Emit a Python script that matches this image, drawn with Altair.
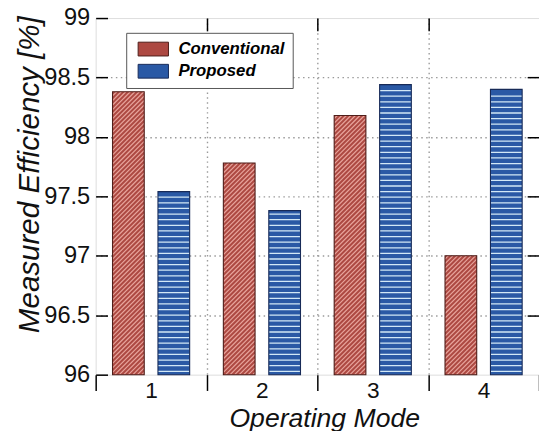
import altair as alt
import numpy as np
import pandas as pd

# ---- data ----
modes = [1, 2, 3, 4]
series_names = ["Conventional", "Proposed"]
conventional = [98.38, 97.78, 98.18, 97.00]
proposed = [97.54, 97.38, 98.44, 98.40]
y_ticks = [96, 96.5, 97, 97.5, 98, 98.5, 99]
x_tick_labels = ["1", "2", "3", "4"]

# ---- layout / style constants ----
W, H = 450, 362
Y0, Y1 = 96, 99
X0, X1 = 0.5, 4.5
kx = W / (X1 - X0)
ky = H / (Y1 - Y0)
OFF, HW = 0.205, 0.143

red_fill, red_stripe, red_edge = "#ad4942", "#e8a49c", "#4e1e1a"
blue_fill, blue_stripe, blue_edge = "#2a59a5", "#d2e8f6", "#172a57"
FONT = "Liberation Sans"

rows = []
for m, c, p in zip(modes, conventional, proposed):
    rows.append(dict(mode=m, series="Conventional", value=c, xl=m - OFF - HW, xr=m - OFF + HW))
    rows.append(dict(mode=m, series="Proposed", value=p, xl=m + OFF - HW, xr=m + OFF + HW))
bars = pd.DataFrame(rows)

# hatch lines derived from bar geometry (diagonal for Conventional, horizontal for Proposed)
r = kx / ky
diag, horiz = [], []
step_d = 4.6 / ky
step_h = 5.7 / ky
for _, b in bars.iterrows():
    xl, xr, v = b.xl, b.xr, b.value
    if b.series == "Conventional":
        for s in np.arange(-(xr - xl) * r + step_d / 2, v - Y0, step_d):
            xs = max(xl, xl - s / r)
            xe = min(xr, xl + (v - Y0 - s) / r)
            if xe - xs > 1e-6:
                diag.append(dict(x=xs, y=Y0 + s + (xs - xl) * r, x2=xe, y2=Y0 + s + (xe - xl) * r))
    else:
        for yy in np.arange(Y0 + step_h * 0.6, v - step_h * 0.3, step_h):
            horiz.append(dict(x=xl, y=yy, x2=xr, y2=yy))
diag = pd.DataFrame(diag)
horiz = pd.DataFrame(horiz)

xs = alt.Scale(domain=[X0, X1], nice=False, zero=False)
ys = alt.Scale(domain=[Y0, Y1], nice=False, zero=False)

x_vals = [0.5, 1, 1.5, 2, 2.5, 3, 3.5, 4, 4.5]
x_axis_bottom = alt.Axis(
    orient="bottom", values=x_vals,
    labelExpr="datum.value % 1 == 0 ? '' + datum.value : ''",
    tickOpacity={"condition": {"test": "datum.value % 1 == 0", "value": 0}, "value": 1},
    gridOpacity={"condition": {"test": "datum.value % 1 == 0 || datum.value < 1 || datum.value > 4", "value": 0}, "value": 1},
    tickSize=16, tickWidth=1.5, tickColor="black", domain=False,
    grid=True, gridDash=[1.5, 3.5], gridColor="#9a9a9a", gridWidth=1.4,
    labelFont=FONT, labelFontSize=23, labelColor="#111", labelBaseline="alphabetic",
    labelPadding=7.5, labelAngle=0, labelOverlap=False, labelFlush=False,
    title="Operating Mode", titleFont=FONT, titleFontSize=27, titleFontStyle="italic",
    titleFontWeight="normal", titleColor="#111", titleX=232, titleY=52.5,
    titleBaseline="alphabetic", titleAlign="center",
)
y_axis_left = alt.Axis(
    orient="left", values=y_ticks, offset=-12, tickSize=12, tickWidth=1.5, tickColor="black",
    domain=False, grid=True, gridDash=[1.5, 3.5], gridColor="#9a9a9a", gridWidth=1.4,
    gridOpacity={"condition": {"test": "datum.value <= 96 || datum.value >= 99", "value": 0}, "value": 1},
    labelExpr="'' + datum.value", labelFont=FONT, labelFontSize=24, labelColor="#111",
    labelPadding=6, labelOverlap=False, labelFlush=False,
    title="Measured Efficiency [%]", titleFont=FONT, titleFontSize=30, titleFontStyle="italic",
    titleFontWeight="normal", titleColor="#111", titleAngle=270, titleX=-79, titleY=158.5,
    titleAlign="center", titleBaseline="middle",
)
x_axis_top = alt.Axis(orient="top", values=[1.5, 2.5, 3.5], offset=-13, tickSize=13, tickWidth=1.5,
                      tickColor="black", labels=False, domain=False, grid=False, title=None)
y_axis_right = alt.Axis(orient="right", values=y_ticks[1:-1], offset=-12, tickSize=12, tickWidth=1.5,
                        tickColor="black", labels=False, domain=False, grid=False, title=None)

legend = alt.Legend(
    title=None, orient="none", legendX=31, legendY=15, direction="vertical",
    symbolType="M-2.2,-1H2.2V1H-2.2Z", symbolSize=196, symbolStrokeColor="#333",
    symbolStrokeWidth=1, symbolOffset=11, labelOffset=17,
    labelFont=FONT, labelFontSize=17, labelFontStyle="italic", labelFontWeight="bold",
    labelColor="black", padding=8, rowPadding=3.5, strokeColor="#555", fillColor="white",
    labelLimit=300,
)

fill_layer = alt.Chart(bars).mark_bar(strokeWidth=0).encode(
    x=alt.X("xl:Q", scale=xs, axis=x_axis_bottom),
    x2="xr:Q",
    y=alt.Y("value:Q", scale=ys, axis=y_axis_left),
    y2=alt.datum(Y0),
    color=alt.Color("series:N", scale=alt.Scale(domain=series_names, range=[red_fill, blue_fill]), legend=legend),
)

diag_layer = alt.Chart(diag).mark_rule(color=red_stripe, strokeWidth=1.2).encode(
    x=alt.X("x:Q", scale=xs, axis=None), x2="x2:Q",
    y=alt.Y("y:Q", scale=ys, axis=None), y2="y2:Q",
)
horiz_layer = alt.Chart(horiz).mark_rule(color=blue_stripe, strokeWidth=1.3).encode(
    x=alt.X("x:Q", scale=xs, axis=None), x2="x2:Q",
    y=alt.Y("y:Q", scale=ys, axis=None), y2="y2:Q",
)

outline_layer = alt.Chart(bars).mark_bar(fillOpacity=0, strokeWidth=1.1).encode(
    x=alt.X("xl:Q", scale=xs, axis=x_axis_top),
    x2="xr:Q",
    y=alt.Y("value:Q", scale=ys, axis=y_axis_right),
    y2=alt.datum(Y0),
    stroke=alt.Stroke("series:N", scale=alt.Scale(domain=series_names, range=[red_edge, blue_edge]), legend=None),
)

chart = alt.layer(fill_layer, diag_layer, horiz_layer, outline_layer).resolve_axis(
    x="independent", y="independent"
).properties(
    width=W, height=H,
    autosize=alt.AutoSizeParams(type="none"),
    padding={"left": 89, "top": 7, "right": 0, "bottom": 56},
).configure_view(stroke="black", strokeWidth=1.5).configure(background="white")

chart.save("out.html", embed_options={"renderer": "svg", "actions": False})
